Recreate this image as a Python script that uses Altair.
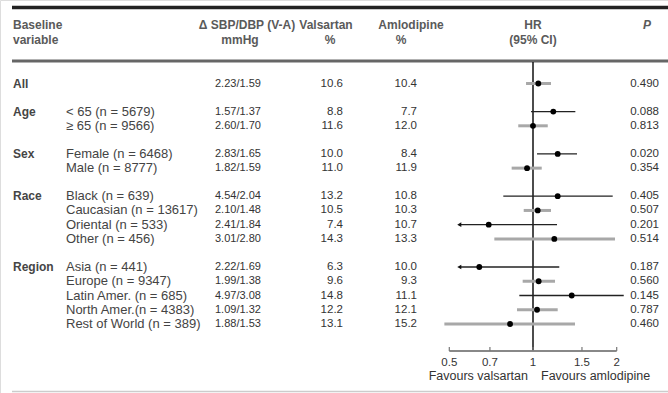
import altair as alt
import pandas as pd

# ---------------- data ----------------
groups = ["All", "Age", "", "Sex", "", "Race", "", "", "", "Region", "", "", "", ""]
subgroups = ["", "< 65 (n = 5679)", "≥ 65 (n = 9566)", "Female (n = 6468)", "Male (n = 8777)",
             "Black (n = 639)", "Caucasian (n = 13617)", "Oriental (n = 533)", "Other (n = 456)",
             "Asia (n = 441)", "Europe (n = 9347)", "Latin Amer. (n = 685)",
             "North Amer.(n = 4383)", "Rest of World (n = 389)"]
delta_bp = ["2.23/1.59", "1.57/1.37", "2.60/1.70", "2.83/1.65", "1.82/1.59", "4.54/2.04",
            "2.10/1.48", "2.41/1.84", "3.01/2.80", "2.22/1.69", "1.99/1.38", "4.97/3.08",
            "1.09/1.32", "1.88/1.53"]
valsartan = ["10.6", "8.8", "11.6", "10.0", "11.0", "13.2", "10.5", "7.4", "14.3", "6.3",
             "9.6", "14.8", "12.2", "13.1"]
amlodipine = ["10.4", "7.7", "12.0", "8.4", "11.9", "10.8", "10.3", "10.7", "13.3", "10.0",
              "9.3", "11.1", "12.1", "15.2"]
p_values = ["0.490", "0.088", "0.813", "0.020", "0.354", "0.405", "0.507", "0.201", "0.514",
            "0.187", "0.560", "0.145", "0.787", "0.460"]
hr = [1.045, 1.183, 1.0, 1.227, 0.952, 1.227, 1.04, 0.693, 1.193, 0.641, 1.048, 1.378, 1.034, 0.827]
hr_low = [0.944, 0.984, 0.885, 1.034, 0.838, 0.782, 0.926, 0.543, 0.726, 0.543, 0.918, 0.893, 0.876, 0.48]
hr_high = [1.161, 1.42, 1.13, 1.44, 1.075, 1.935, 1.161, 1.22, 1.972, 1.243, 1.2, 2.12, 1.227, 1.416]
highlight = [False, True, False, True, False, True, False, True, False, True, False, True, False, False]
low_arrow = [False, False, False, False, False, False, False, True, False, True, False, False, False, False]
tick_values = [0.5, 0.7, 1, 1.5, 2]
tick_labels = ["0.5", "0.7", "1", "1.5", "2"]

# ---------------- layout helpers ----------------
GAP = 0.97
gid = []
g = -1
for lab in groups:
    if lab:
        g += 1
    gid.append(g)
pos = [i + GAP * gg for i, gg in enumerate(gid)]

df = pd.DataFrame({
    "group": groups, "sub": subgroups, "dbp": delta_bp, "val": valsartan, "aml": amlodipine,
    "p": p_values, "hr": hr, "lo": hr_low, "hi": hr_high, "hl": highlight, "arrow": low_arrow,
    "pos": pos,
})
ticks = pd.DataFrame({"v": tick_values, "lab": tick_labels})
axis_df = pd.DataFrame({"lo": [min(tick_values)], "hi": [max(tick_values)]})
one = pd.DataFrame({"k": [0]})
ref_df = pd.DataFrame({"v": [1.0]})

FONT = "Liberation Sans"
TXT = "#333333"
HEAD = "#5a5a5a"

xs = alt.Scale(type="log", domain=[0.5, 2], range=[449.3, 616.7], clamp=False)
ys = alt.Scale(domain=[0, 13 + 4 * GAP], range=[83.5, 324])
Y = alt.Y("pos:Q", scale=ys, axis=None)


def col_text(field, xpx, align, size=11, weight="normal", color=TXT):
    return alt.Chart(df).mark_text(align=align, baseline="middle", font=FONT, fontSize=size,
                                   fontWeight=weight, color=color).encode(
        x=alt.value(xpx), y=Y, text=f"{field}:N")


def head(txt, xpx, ypx, align="center", style="normal", size=12):
    return alt.Chart(one).mark_text(align=align, baseline="middle", font=FONT, fontSize=size,
                                    fontWeight="bold", fontStyle=style, color=HEAD).encode(
        x=alt.value(xpx), y=alt.value(ypx), text=alt.value(txt))


def hline(ypx, width, color, x1=12, x2=668):
    return alt.Chart(one).mark_rule(strokeWidth=width, color=color).encode(
        x=alt.value(x1), x2=alt.value(x2), y=alt.value(ypx))


layers = [
    hline(7.5, 3.5, "#222222"),
    hline(61, 3, "#666666"),
    hline(391.5, 1.5, "#cccccc"),
    head("Baseline", 13, 25, "left"),
    head("variable", 13, 40, "left"),
    head("Δ SBP/DBP (V-A)", 247, 25),
    head("mmHg", 240, 40),
    head("Valsartan", 326, 25),
    head("%", 330, 40),
    head("Amlodipine", 411, 25),
    head("%", 401, 40),
    head("HR", 533, 25),
    head("(95% CI)", 533, 40),
    head("P", 647, 25, style="italic"),
    col_text("group", 13, "left", size=12, weight="bold", color="#454545"),
    col_text("sub", 66, "left", size=13, color="#444444"),
    col_text("dbp", 215, "left", size=11),
    col_text("val", 343, "right", size=11.5),
    col_text("aml", 417, "right", size=11.5),
    col_text("p", 659, "right", size=11.5),
    # reference line at HR = 1
    alt.Chart(ref_df).mark_rule(color="#111111", strokeWidth=1.5).encode(
        x=alt.X("v:Q", scale=xs, axis=None), y=alt.value(62), y2=alt.value(351)),
    # CI lines
    alt.Chart(df).transform_filter("!datum.hl").mark_rule(color="#a8a8a8", strokeWidth=3).encode(
        x=alt.X("lo:Q", scale=xs, axis=None), x2="hi:Q", y=Y),
    alt.Chart(df).transform_filter("datum.hl").mark_rule(color="#222222", strokeWidth=1.3).encode(
        x=alt.X("lo:Q", scale=xs, axis=None), x2="hi:Q", y=Y),
    alt.Chart(df).transform_filter("datum.arrow").mark_point(
        shape="triangle-left", filled=True, color="#111111", size=22, opacity=1).encode(
        x=alt.X("lo:Q", scale=xs, axis=None), y=Y),
    alt.Chart(df).mark_circle(color="#000000", size=34, opacity=1).encode(
        x=alt.X("hr:Q", scale=xs, axis=None), y=Y),
    # manual axis
    alt.Chart(axis_df).mark_rule(color="#888888", strokeWidth=2).encode(
        x=alt.X("lo:Q", scale=xs, axis=None), x2="hi:Q", y=alt.value(351)),
    alt.Chart(ticks).mark_rule(color="#777777", strokeWidth=1.2).encode(
        x=alt.X("v:Q", scale=xs, axis=None), y=alt.value(347), y2=alt.value(351)),
    alt.Chart(ticks).mark_text(align="center", baseline="middle", font=FONT, fontSize=11.5,
                               color=TXT).encode(
        x=alt.X("v:Q", scale=xs, axis=None), y=alt.value(363), text="lab:N"),
    alt.Chart(one).mark_text(align="right", baseline="middle", font=FONT, fontSize=12.5,
                             color=TXT).encode(
        x=alt.value(528), y=alt.value(375.5), text=alt.value("Favours valsartan")),
    alt.Chart(one).mark_text(align="left", baseline="middle", font=FONT, fontSize=12.5,
                             color=TXT).encode(
        x=alt.value(541), y=alt.value(375.5), text=alt.value("Favours amlodipine")),
]

chart = alt.layer(*layers).properties(
    width=668, height=393, autosize=alt.AutoSizeParams(type="none"), padding=0,
).configure_view(stroke=None).configure(background="white")

chart.save("out.html", embed_options={"renderer": "svg", "actions": False})
